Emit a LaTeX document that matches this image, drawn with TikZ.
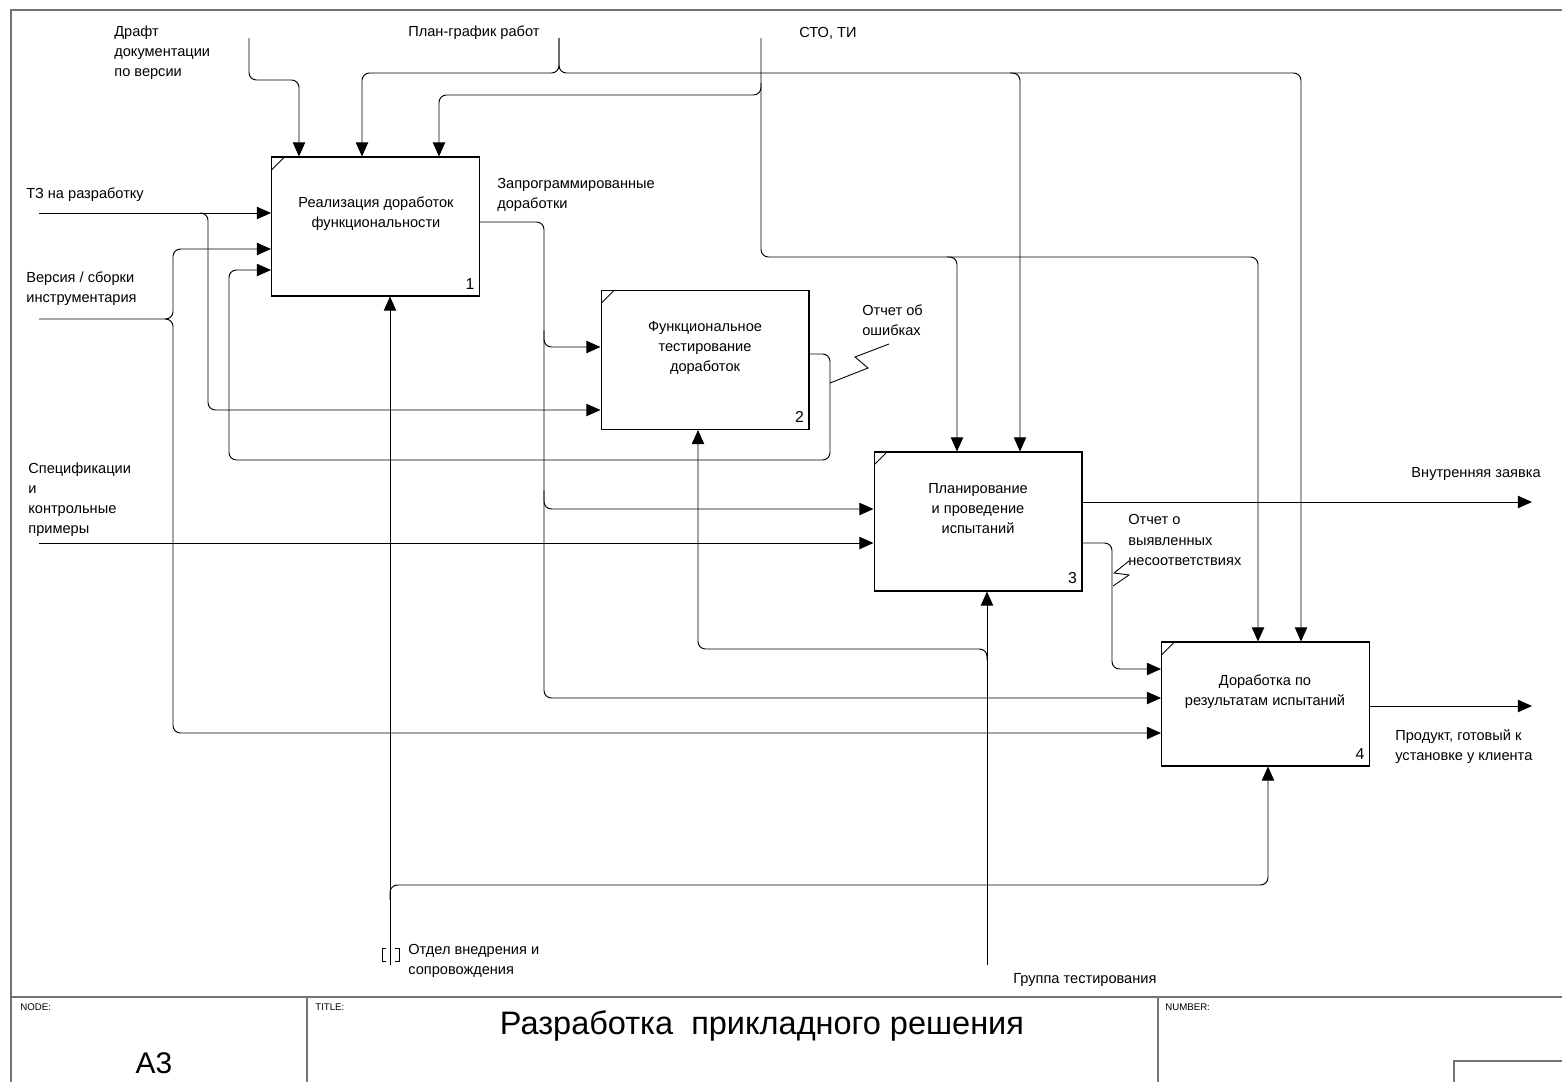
\documentclass[tikz,border=0pt]{standalone}
\usepackage{fontspec}
\setmainfont{Liberation Sans}
\usetikzlibrary{arrows.meta,positioning}

\newcommand\lblfont{\fontsize{8.3pt}{11.4pt}\selectfont}

\tikzset{
  func/.style={draw, line width=0.6pt, minimum width=4.16cm, minimum height=2.78cm, inner sep=0pt,
    path picture={\draw[line width=0.5pt] ([yshift=-0.26cm]path picture bounding box.north west)
      -- ([xshift=0.26cm]path picture bounding box.north west);}},
  functext/.style={font=\lblfont, align=center, inner sep=0pt},
  funcnum/.style={font=\fontsize{9pt}{11pt}\selectfont, anchor=south east, inner xsep=3pt, inner ysep=4pt},
  lbl/.style={font=\lblfont, align=left, anchor=west, inner sep=0pt},
  link/.style={-{Triangle[length=8pt,width=7pt]}, line width=0.55pt},
  squig/.style={line width=0.5pt},
  frame/.style={draw=black!55, line width=1.2pt},
  corner/.style={rounded corners=0.15cm}
}

\begin{document}
\begin{tikzpicture}[x=0.02cm, y=-0.02cm]
  \useasboundingbox (0,0) rectangle (1562,1082);

  % sheet frame and title block
  \draw[frame] (11,1082) -- (11,10) -- (1562,10);
  \draw[frame] (11,997) -- (1562,997);
  \draw[frame] (307,997) -- (307,1082);
  \draw[frame] (1158,997) -- (1158,1082);
  \draw[frame] (1562,1061) -- (1454,1061) -- (1454,1082);
  \node[lbl, font=\fontsize{5.5pt}{6pt}\selectfont] (nodeHd) at (20,1007) {NODE:};
  \node[lbl, font=\fontsize{5.5pt}{6pt}\selectfont] (titleHd) at (315,1007) {TITLE:};
  \node[lbl, font=\fontsize{5.5pt}{6pt}\selectfont] (numHd) at (1165,1007) {NUMBER:};
  \node[font=\fontsize{17pt}{19pt}\selectfont, inner sep=0pt] (nodeId) at (154,1063) {A3};
  \node[font=\fontsize{18.5pt}{21pt}\selectfont, inner sep=0pt] (title) at (762,1026) {Разработка\ \ прикладного решения};

  % function blocks
  \node[func] (b1) at (375.5,226.5) {};
  \node[func] (b2) at (705,360) {};
  \node[func] (b3) at (978,521.5) {};
  \node[func, minimum height=2.48cm] (b4) at (1265.5,704) {};
  \node[functext] (t1) at (376,214) {Реализация доработок\\функциональности};
  \node[functext] (t2) at (705,347.5) {Функциональное\\тестирование\\доработок};
  \node[functext] (t3) at (978,509) {Планирование\\и проведение\\испытаний};
  \node[functext] (t4) at (1265,692) {Доработка по\\результатам испытаний};
  \node[funcnum] (n1) at (b1.south east) {1};
  \node[funcnum] (n2) at (b2.south east) {2};
  \node[funcnum] (n3) at (b3.south east) {3};
  \node[funcnum] (n4) at (b4.south east) {4};

  % free ends of the boundary arrows
  \coordinate (tzIn) at (39,213);
  \coordinate (versIn) at (39,319);
  \coordinate (specIn) at (39,543);
  \coordinate (draftIn) at (249,38);
  \coordinate (planIn) at (559,38);
  \coordinate (stoIn) at (761,38);
  \coordinate (otdelIn) at (390,965);
  \coordinate (grpIn) at (987,965);
  \coordinate (zayavkaOut) at (1532,502);
  \coordinate (productOut) at (1532,706);

  % arrow labels
  \node[lbl] (lDraft) at (114,53) {Драфт\\документации\\по версии};
  \node[lbl] (lPlan) at (408,33) {План-график работ};
  \node[lbl] (lSto) at (799,33) {СТО, ТИ};
  \node[lbl] (lTz) at (26,195) {ТЗ на разработку};
  \node[lbl] (lVers) at (26,289) {Версия / сборки\\инструментария};
  \node[lbl] (lSpec) at (28,499.5) {Спецификации\\и\\контрольные\\примеры};
  \node[lbl] (lProg) at (497,195) {Запрограммированные\\доработки};
  \node[lbl] (lErr) at (862,320) {Отчет об\\ошибках};
  \node[lbl, anchor=east] (lZayavka) at (1541,474) {Внутренняя заявка};
  \node[lbl] (lNes) at (1128,540) {Отчет о\\выявленных\\несоответствиях};
  \node[lbl] (lProduct) at (1395,747) {Продукт, готовый к\\установке у клиента};
  \node[lbl] (lOtdel) at (408,961) {Отдел внедрения и\\сопровождения};
  \node[lbl] (lGrp) at (1013,980) {Группа тестирования};

  % inputs
  \draw[link] (tzIn) -- (b1.west |- tzIn);
  \draw[link, corner] (200,213) -- (208,213) -- (208,410) -- (b2.west |- 0,410);
  \draw[link, corner] (versIn) -- (173,319) -- (173,249) -- (b1.west |- 0,249);
  \draw[link, corner] (165,319) -- (173,319) -- (173,733) -- (b4.west |- 0,733);
  \draw[link] (specIn) -- (b3.west |- specIn);

  % controls
  \draw[link, corner] (draftIn) -- (249,80) -- (299,80) -- (b1.north -| 299,0);
  \draw[link, corner] (planIn) -- (559,73) -- (362,73) -- (b1.north -| 362,0);
  \draw[link, corner] (planIn) -- (559,73) -- (1020,73) -- (b3.north -| 1020,0);
  \draw[link, corner] (1010,73) -- (1301,73) -- (b4.north -| 1301,0);
  \draw[link, corner] (761,83) -- (761,95) -- (439,95) -- (b1.north -| 439,0);
  \draw[link, corner] (stoIn) -- (761,257) -- (957,257) -- (b3.north -| 957,0);
  \draw[link, corner] (947,257) -- (1258,257) -- (b4.north -| 1258,0);

  % outputs and feedback
  \draw[link, corner] (b1.east |- 0,222) -- (544,222) -- (544,347) -- (b2.west |- 0,347);
  \draw[link, corner] (544,330) -- (544,509) -- (b3.west |- 0,509);
  \draw[link, corner] (544,490) -- (544,698) -- (b4.west |- 0,698);
  \draw[link, corner] (b2.east |- 0,354) -- (830,354) -- (830,460) -- (229,460) -- (229,270) -- (b1.west |- 0,270);
  \draw[link] (b3.east |- zayavkaOut) -- (zayavkaOut);
  \draw[link, corner] (b3.east |- 0,543) -- (1112,543) -- (1112,669) -- (b4.west |- 0,669);
  \draw[link] (b4.east |- productOut) -- (productOut);
  \draw[squig] (830,383) -- (868,368) -- (855,357) -- (889,344);
  \draw[squig] (1113,586) -- (1129,575) -- (1114,573) -- (1129,561);

  % mechanisms
  \draw[link] (otdelIn) -- (b1.south -| otdelIn);
  \draw[link, corner] (390,900) -- (390,885) -- (1268,885) -- (b4.south -| 1268,0);
  \draw[link] (grpIn) -- (b3.south -| grpIn);
  \draw[link, corner] (987,660) -- (987,649) -- (698,649) -- (b2.south -| 698,0);
  % tunnel brackets
  \draw[squig] (386,948) -- (382,948) -- (382,961) -- (386,961);
  \draw[squig] (395,948) -- (399,948) -- (399,961) -- (395,961);
\end{tikzpicture}
\end{document}
